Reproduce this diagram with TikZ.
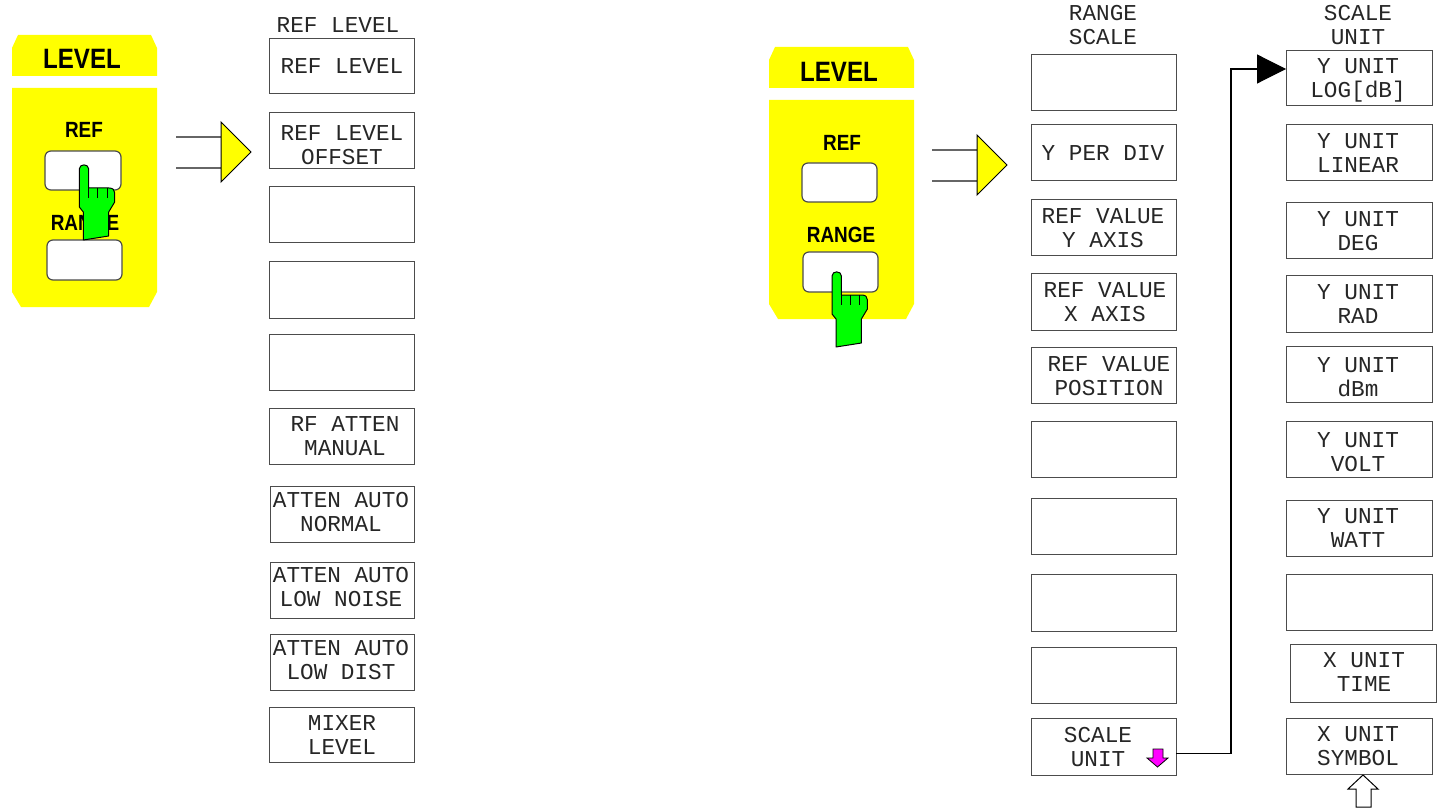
\documentclass[tikz,border=0pt]{standalone}
\usepackage{fontspec}
\setmainfont{Liberation Mono}
\newfontfamily\panelfont[FakeStretch=0.86]{Liberation Sans Bold}
\usetikzlibrary{arrows.meta}
\definecolor{panelyellow}{RGB}{255,255,0}
\definecolor{handgreen}{RGB}{0,255,0}
\definecolor{downmagenta}{RGB}{255,0,255}
\tikzset{
  softkey/.style={draw=black!70,line width=1pt,fill=white,inner sep=0pt,outer sep=0pt},
  keytext/.style={inner sep=0pt,align=center,font=\fontsize{22.7}{24}\selectfont,text=black!85},
  panel/.style={fill=panelyellow,draw=none},
  panelbtn/.style={draw=black!70,line width=1.2pt,fill=white,rounded corners=6pt,inner sep=0pt},
  paneltext/.style={inner sep=0pt,font=\panelfont\fontsize{22}{24}\selectfont},
  leveltext/.style={inner sep=0pt,font=\panelfont\fontsize{28}{30}\selectfont},
  handshape/.style={fill=handgreen,draw=black,line width=1pt,line join=round},
  feed/.style={draw=black!60,line width=1.2pt},
  feedhead/.style={fill=panelyellow,draw=black,line width=1pt},
  link/.style={draw=black,line width=1.1pt,-{Triangle[length=29pt,width=29pt]}},
}
% name, x0,y0,x1,y1, text x, text y, text
\newcommand\softbtn[8]{%
  \node[softkey,minimum width={(#4-#2)*1pt},minimum height={(#5-#3)*1pt}] (#1) at ({(#2+#4)/2},{(#3+#5)/2}) {};
  \node[keytext] (#1-t) at (#6,#7) {#8};
}
\newcommand\pressbtn[5]{%
  \node[panelbtn,minimum width={(#4-#2)*1pt},minimum height={(#5-#3)*1pt}] (#1) at ({(#2+#4)/2},{(#3+#5)/2}) {};
}
\newcommand\handat[2]{%
  \begin{scope}[shift={(#1,#2)}]
    \draw[handshape] (-4.7,42) -- (-4.7,4) .. controls (-4.7,-1.5) and (4.7,-1.5) .. (4.7,4) -- (4.7,23) -- (25,23)
      .. controls (29,23) and (30.7,25) .. (30.7,28) -- (30.7,37) -- (24.7,47) -- (24.7,71) -- (-0.7,75) -- (-0.7,47) -- cycle;
    \draw[handshape] (4.7,23) -- (4.7,33) (13.7,23) -- (13.7,33) (23,23) -- (23,33);
  \end{scope}
}
\newcommand\feedat[2]{%
  \begin{scope}[shift={(#1,#2)}]
    \draw[feed] (176,137) -- (221,137) (176,168) -- (221,168);
    \draw[feedhead] (221,122) -- (251,152) -- (221,182) -- cycle;
  \end{scope}
}
\newcommand\levelpanel[2]{%
  \begin{scope}[shift={(#1,#2)}]
    \fill[panel] (12,76) -- (12,48) -- (18,35) -- (151,35) -- (157,48) -- (157,76) -- cycle;
    \fill[panel] (12,88) -- (157,88) -- (157,292) -- (149,307) -- (21,307) -- (12,292) -- cycle;
  \end{scope}
}
\begin{document}
\begin{tikzpicture}[x=1pt,y=-1pt]
\useasboundingbox (0,0) rectangle (1437,810);
\fill[white] (0,0) rectangle (1437,810);
% --- left panel
\levelpanel{0}{0}
\node[leveltext] (lev1) at (82,59) {LEVEL};
\node[paneltext] (ref1) at (84,130) {REF};
\node[paneltext] (rng1) at (85,223) {RANGE};
\pressbtn{b1a}{45}{151}{121}{190}
\pressbtn{b1b}{47}{240}{122}{280}
\handat{84}{165}
\feedat{0}{0}
% --- left menu
\node[keytext] (hd1) at (338,25) {REF LEVEL};
\softbtn{a1}{269}{39}{414}{94}{342}{66}{REF LEVEL}
\softbtn{a2}{269}{113}{414}{169}{342}{145}{REF LEVEL\\OFFSET}
\softbtn{a3}{269}{187}{414}{243}{342}{215}{}
\softbtn{a4}{269}{262}{414}{318}{342}{290}{}
\softbtn{a5}{269}{334}{414}{390}{342}{362}{}
\softbtn{a6}{269}{408}{414}{464}{345}{436}{RF ATTEN\\MANUAL}
\softbtn{a7}{270}{486}{414}{542}{341}{512}{ATTEN AUTO\\NORMAL}
\softbtn{a8}{270}{562}{414}{618}{341}{587}{ATTEN AUTO\\LOW NOISE}
\softbtn{a9}{270}{634}{414}{690}{341}{660}{ATTEN AUTO\\LOW DIST}
\softbtn{a10}{269}{707}{414}{762}{342}{735}{MIXER\\LEVEL}
% --- right panel
\levelpanel{757}{12}
\node[leveltext] (lev2) at (839,72) {LEVEL};
\node[paneltext] (ref2) at (842,143) {REF};
\node[paneltext] (rng2) at (841,235) {RANGE};
\pressbtn{b2a}{802}{163}{877}{202}
\pressbtn{b2b}{803}{252}{878}{292}
\handat{836.7}{272}
\feedat{756}{13}
% --- middle menu
\node[keytext] (hd2) at (1103,25) {RANGE\\SCALE};
\softbtn{m1}{1031}{55}{1176}{111}{1103}{83}{}
\softbtn{m2}{1031}{125}{1176}{181}{1103}{153}{Y PER DIV}
\softbtn{m3}{1031}{200}{1176}{256}{1103}{228}{REF VALUE\\Y AXIS}
\softbtn{m4}{1031}{274}{1176}{330}{1105}{302}{REF VALUE\\X AXIS}
\softbtn{m5}{1031}{347}{1176}{403}{1109}{376}{REF VALUE\\POSITION}
\softbtn{m6}{1031}{421}{1176}{477}{1103}{449}{}
\softbtn{m7}{1031}{498}{1176}{554}{1103}{526}{}
\softbtn{m8}{1031}{574}{1176}{631}{1103}{602}{}
\softbtn{m9}{1031}{647}{1176}{703}{1103}{675}{}
\softbtn{m10}{1031}{718}{1176}{775}{1098}{747}{SCALE\\UNIT}
% --- right menu
\node[keytext] (hd3) at (1358,25) {SCALE\\UNIT};
\softbtn{r1}{1286}{51}{1432}{106}{1358}{80}{Y UNIT\\LOG[dB]}
\softbtn{r2}{1286}{125}{1432}{181}{1358}{153}{Y UNIT\\LINEAR}
\softbtn{r3}{1286}{203}{1432}{259}{1358}{231}{Y UNIT\\DEG}
\softbtn{r4}{1286}{276}{1432}{332}{1358}{304}{Y UNIT\\RAD}
\softbtn{r5}{1286}{346}{1432}{402}{1358}{377}{Y UNIT\\dBm}
\softbtn{r6}{1286}{421}{1432}{477}{1358}{452}{Y UNIT\\VOLT}
\softbtn{r7}{1286}{500}{1432}{556}{1358}{528}{Y UNIT\\WATT}
\softbtn{r8}{1286}{574}{1432}{630}{1358}{602}{}
\softbtn{r9}{1290}{644}{1436}{702}{1364}{672}{X UNIT\\TIME}
\softbtn{r10}{1286}{718}{1432}{774}{1358}{746}{X UNIT\\SYMBOL}
% --- connector and small arrows
\draw[link] ([yshift=-7pt]m10.east) -- ++(55,0) |- ([yshift=9.5pt]r1.west);
\draw[fill=downmagenta,draw=black,line width=.8pt] (1153,749) -- (1163,749) -- (1163,758) -- (1168,758) -- (1157.5,767) -- (1147,758) -- (1153,758) -- cycle;
\draw[fill=white,draw=black,line width=1pt] (1363,775) -- (1378,789) -- (1371,789) -- (1371,807) -- (1356,807) -- (1356,789) -- (1348,789) -- cycle;
\end{tikzpicture}
\end{document}
